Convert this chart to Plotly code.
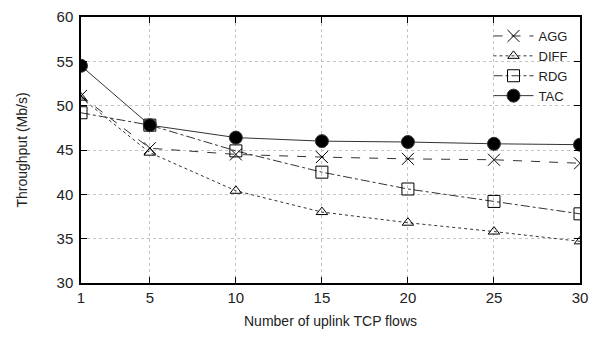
import plotly.graph_objects as go

flows = [1, 5, 10, 15, 20, 25, 30]
agg = [51.1, 45.2, 44.5, 44.2, 44.0, 43.9, 43.5]
diff = [50.9, 44.7, 40.4, 38.0, 36.8, 35.8, 34.7]
rdg = [49.2, 47.8, 44.9, 42.5, 40.6, 39.2, 37.8]
tac = [54.5, 47.8, 46.4, 46.0, 45.9, 45.7, 45.6]
x_ticks = [1, 5, 10, 15, 20, 25, 30]
y_ticks = [30, 35, 40, 45, 50, 55, 60]

series = [
    ("AGG", agg, "x-thin-open", 12, "dash"),
    ("DIFF", diff, "triangle-up-open", 10, "dot"),
    ("RDG", rdg, "square-open", 12, "dashdot"),
    ("TAC", tac, "circle", 13, "solid"),
]

fig = go.Figure()
for name, ys, sym, size, dash in series:
    fig.add_trace(go.Scatter(
        x=flows, y=ys, name=name, mode="lines+markers",
        line=dict(color="#333333", width=1, dash=dash),
        marker=dict(symbol=sym, size=size, color="black",
                    line=dict(color="#333333", width=1)),
    ))

axis_common = dict(
    showline=True, linecolor="black", linewidth=1.5, mirror="ticks",
    ticks="inside", ticklen=6, tickcolor="black",
    showgrid=True, gridcolor="#c4c4c4", griddash="dot", gridwidth=1,
    zeroline=False, tickfont=dict(size=15, color="#222"),
    title_font=dict(size=14, color="#222"), automargin=False,
    ticklabeloverflow="allow",
)

# page body has an 8px margin, so the figure is shrunk and shifted accordingly
fig.update_layout(
    width=583, height=321,
    margin=dict(l=73, r=11, t=9, b=46, autoexpand=False),
    plot_bgcolor="white", paper_bgcolor="white",
    font=dict(family="Liberation Sans, Arial, sans-serif", color="#222"),
    xaxis=dict(range=[1, 30], tickvals=x_ticks, title=dict(text="Number of uplink TCP flows", standoff=16), **axis_common),
    yaxis=dict(range=[30, 60], tickvals=y_ticks, ticklabelstandoff=3,
               title=dict(text="Throughput (Mb/s)", standoff=26), **axis_common),
    legend=dict(x=0.985, y=0.985, xanchor="right", yanchor="top",
                bgcolor="rgba(255,255,255,0)", font=dict(size=13),
                tracegroupgap=0, itemwidth=40),
)

fig.write_html("out.html")
